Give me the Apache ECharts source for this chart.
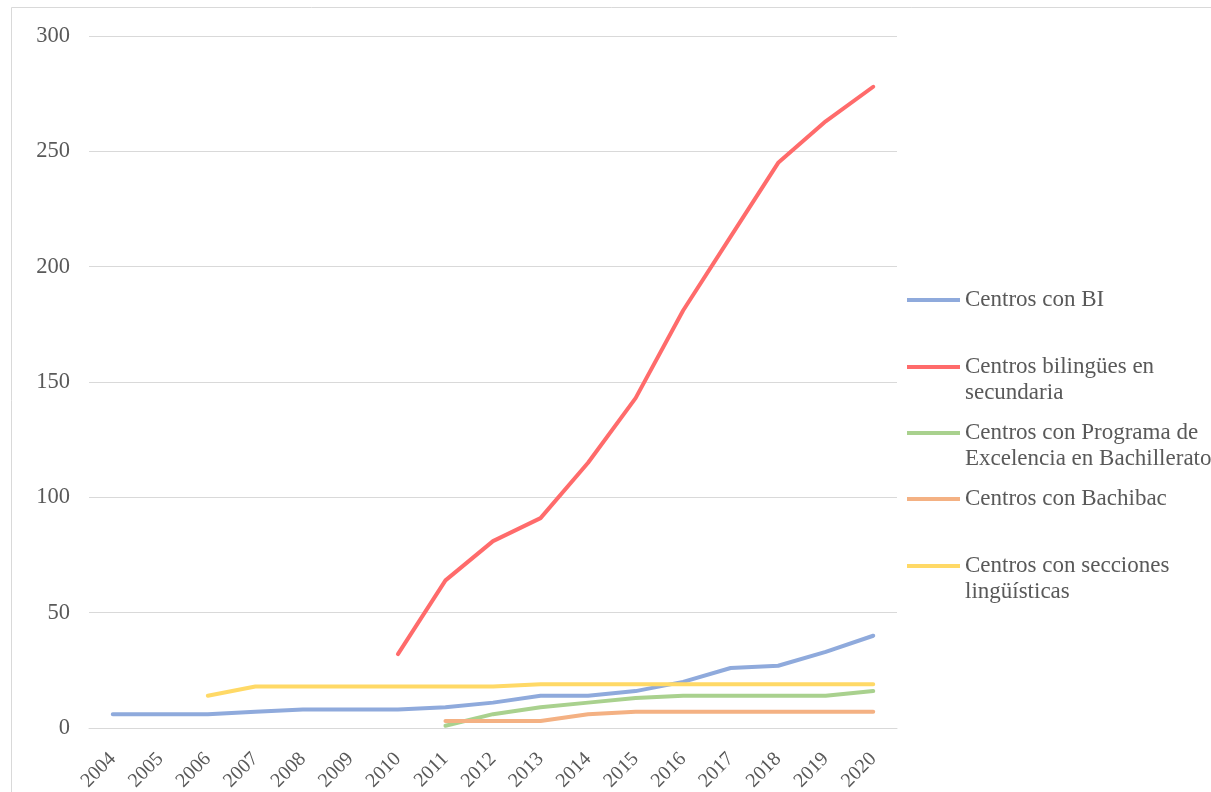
<!DOCTYPE html>
<html>
<head>
<meta charset="utf-8">
<script src="https://cdn.jsdelivr.net/npm/echarts@6/dist/echarts.min.js"></script>
<style>html,body{margin:0;padding:0;background:#fff;}#c{width:1211px;height:792px;}</style>
</head>
<body>
<div id="c"></div>
<script>
const years = ['2004','2005','2006','2007','2008','2009','2010','2011','2012','2013','2014','2015','2016','2017','2018','2019','2020'];
const yTicks = [0, 50, 100, 150, 200, 250, 300];
const seriesNames = ['Centros con BI', 'Centros bilingües en secundaria', 'Centros con Programa de Excelencia en Bachillerato', 'Centros con Bachibac', 'Centros con secciones lingüísticas'];
const legendLines = [['Centros con BI'], ['Centros bilingües en', 'secundaria'], ['Centros con Programa de', 'Excelencia en Bachillerato'], ['Centros con Bachibac'], ['Centros con secciones', 'lingüísticas']];
const centrosBI = [6, 6, 6, 7, 8, 8, 8, 9, 11, 14, 14, 16, 20, 26, 27, 33, 40];
const bilingues = [null, null, null, null, null, null, 32, 64, 81, 91, 115, 143, 181, 213, 245, 263, 278];
const excelencia = [null, null, null, null, null, null, null, 1, 6, 9, 11, 13, 14, 14, 14, 14, 16];
const bachibac = [null, null, null, null, null, null, null, 3, 3, 3, 6, 7, 7, 7, 7, 7, 7];
const secciones = [null, null, 14, 18, 18, 18, 18, 18, 18, 19, 19, 19, 19, 19, 19, 19, 19];
const colors = ['#8FAADC', '#FF6B6B', '#A9D18E', '#F4B183', '#FFD966'];

const seriesData = [centrosBI, bilingues, excelencia, bachibac, secciones];
const font = '"Liberation Serif", "DejaVu Serif", serif';
const legendY = [300, 367, 433, 499, 566];

const chart = echarts.init(document.getElementById('c'), null, {renderer: 'canvas'});
const legends = seriesNames.map((n, i) => {
  const multi = legendLines[i].length > 1;
  return {
    show: true,
    data: [{name: n, icon: 'rect'}],
    orient: 'vertical',
    left: 907,
    top: legendY[i] - (multi ? 39 : 13),
    itemWidth: 53,
    itemHeight: 4,
    itemGap: 0,
    padding: 0,
    selectedMode: false,
    formatter: () => (multi ? '\n' : '') + legendLines[i].join('\n'),
    textStyle: {fontFamily: font, fontSize: 23, color: '#595959', lineHeight: 26}
  };
});

chart.setOption({
  animation: false,
  backgroundColor: '#ffffff',
  color: colors,
  grid: {left: 89, right: 314, top: 36, bottom: 64, containLabel: false, outerBoundsMode: 'none'},
  legend: legends,
  xAxis: {
    type: 'category',
    data: years,
    boundaryGap: true,
    axisLine: {show: true, lineStyle: {color: '#d9d9d9', width: 1}},
    axisTick: {show: false},
    axisLabel: {rotate: 45, fontFamily: font, fontSize: 20, color: '#595959', margin: 28, interval: 0}
  },
  yAxis: {
    type: 'value',
    min: yTicks[0],
    max: yTicks[yTicks.length - 1],
    interval: 50,
    axisLine: {show: false},
    axisTick: {show: false},
    axisLabel: {fontFamily: font, fontSize: 22.5, color: '#595959', margin: 19},
    splitLine: {show: true, lineStyle: {color: '#d9d9d9', width: 1}}
  },
  series: seriesNames.map((n, i) => ({
    name: n,
    type: 'line',
    data: seriesData[i],
    showSymbol: false,
    symbol: 'none',
    connectNulls: false,
    lineStyle: {width: 4, color: colors[i], cap: 'round', join: 'round'},
    itemStyle: {color: colors[i]}
  })),
  graphic: [{
    type: 'rect',
    silent: true,
    shape: {x: 11.5, y: 7.5, width: 1400, height: 1000},
    style: {fill: 'none', stroke: '#d9d9d9', lineWidth: 1},
    z: -1
  }]
});
</script>
</body>
</html>
